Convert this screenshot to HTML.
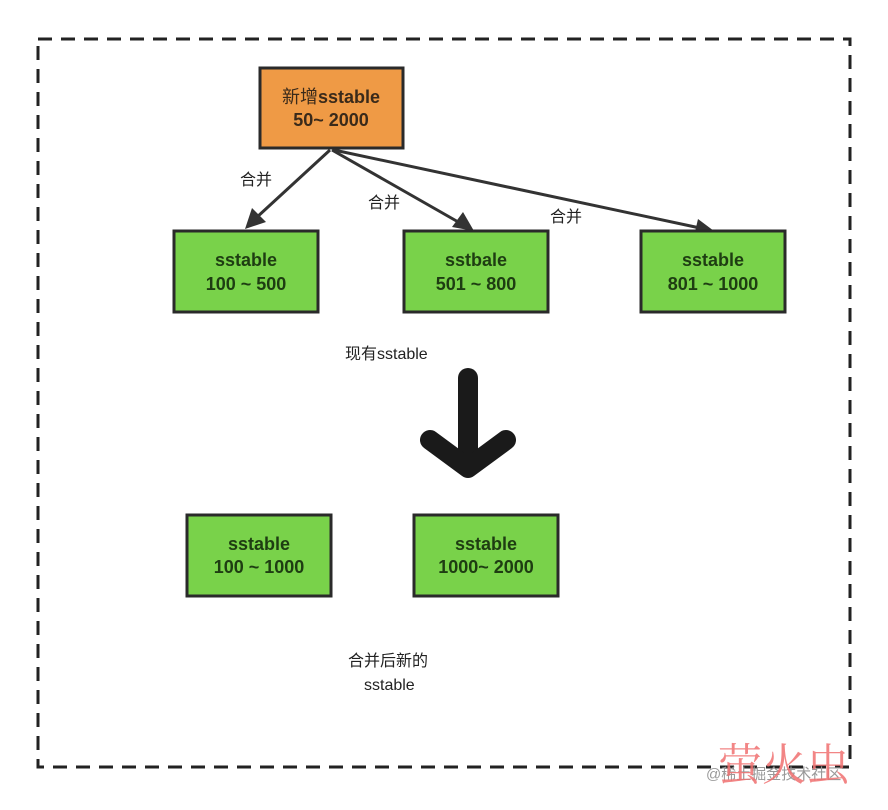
<!DOCTYPE html>
<html><head><meta charset="utf-8"><style>body{margin:0;background:#fff}</style></head><body>
<svg width="888" height="805" xmlns="http://www.w3.org/2000/svg" font-family="Liberation Sans, Noto Sans CJK SC, sans-serif">
<rect x="38" y="39" width="812" height="728" fill="none" stroke="#222" stroke-width="3" stroke-dasharray="14,9"/>
<g stroke="#333" stroke-width="3" fill="#333">
<line x1="330" y1="150" x2="256" y2="218"/>
<line x1="332" y1="150" x2="460" y2="223"/>
<line x1="334" y1="150" x2="700" y2="228"/>
</g>
<g fill="#333">
<polygon points="245,229 252,208 266,222"/>
<polygon points="474,231 452,227 463,212"/>
<polygon points="714,231 694,236 698,219"/>
</g>
<rect x="260" y="68" width="143" height="80" fill="#ef9a45" stroke="#2a2a2a" stroke-width="3"/>
<g fill="#79d24a" stroke="#2a2a2a" stroke-width="3">
<rect x="174" y="231" width="144" height="81"/>
<rect x="404" y="231" width="144" height="81"/>
<rect x="641" y="231" width="144" height="81"/>
<rect x="187" y="515" width="144" height="81"/>
<rect x="414" y="515" width="144" height="81"/>
</g>
<g font-weight="bold" font-size="18" text-anchor="middle" fill="#2a3a1a">
<text x="331" y="103" fill="#3a2a1a"><tspan font-weight="normal">新增</tspan>sstable</text>
<text x="331" y="126" fill="#3a2a1a">50~ 2000</text>
<text x="246" y="266" fill="#1e3d12">sstable</text>
<text x="246" y="290" fill="#1e3d12">100 ~ 500</text>
<text x="476" y="266" fill="#1e3d12">sstbale</text>
<text x="476" y="290" fill="#1e3d12">501 ~ 800</text>
<text x="713" y="266" fill="#1e3d12">sstable</text>
<text x="713" y="290" fill="#1e3d12">801 ~ 1000</text>
<text x="259" y="550" fill="#1e3d12">sstable</text>
<text x="259" y="573" fill="#1e3d12">100 ~ 1000</text>
<text x="486" y="550" fill="#1e3d12">sstable</text>
<text x="486" y="573" fill="#1e3d12">1000~ 2000</text>
</g>
<g font-size="16" fill="#222">
<text x="240" y="185">合并</text>
<text x="368" y="208">合并</text>
<text x="550" y="222">合并</text>
<text x="345" y="359">现有sstable</text>
<text x="348" y="666">合并后新的</text>
<text x="364" y="690">sstable</text>
</g>
<g stroke="#1a1a1a" stroke-width="20" stroke-linecap="round" stroke-linejoin="round" fill="none">
<line x1="468" y1="378" x2="468" y2="465"/>
<polyline points="430,440 468,468 506,440"/>
</g>
<text x="706" y="779" font-size="15" fill="#999">@稀土掘金技术社区</text>
<text x="718" y="780" font-size="44" fill="#f07070" opacity="0.85" font-family="Noto Serif CJK SC, serif">萤火虫</text>
</svg>
</body></html>
